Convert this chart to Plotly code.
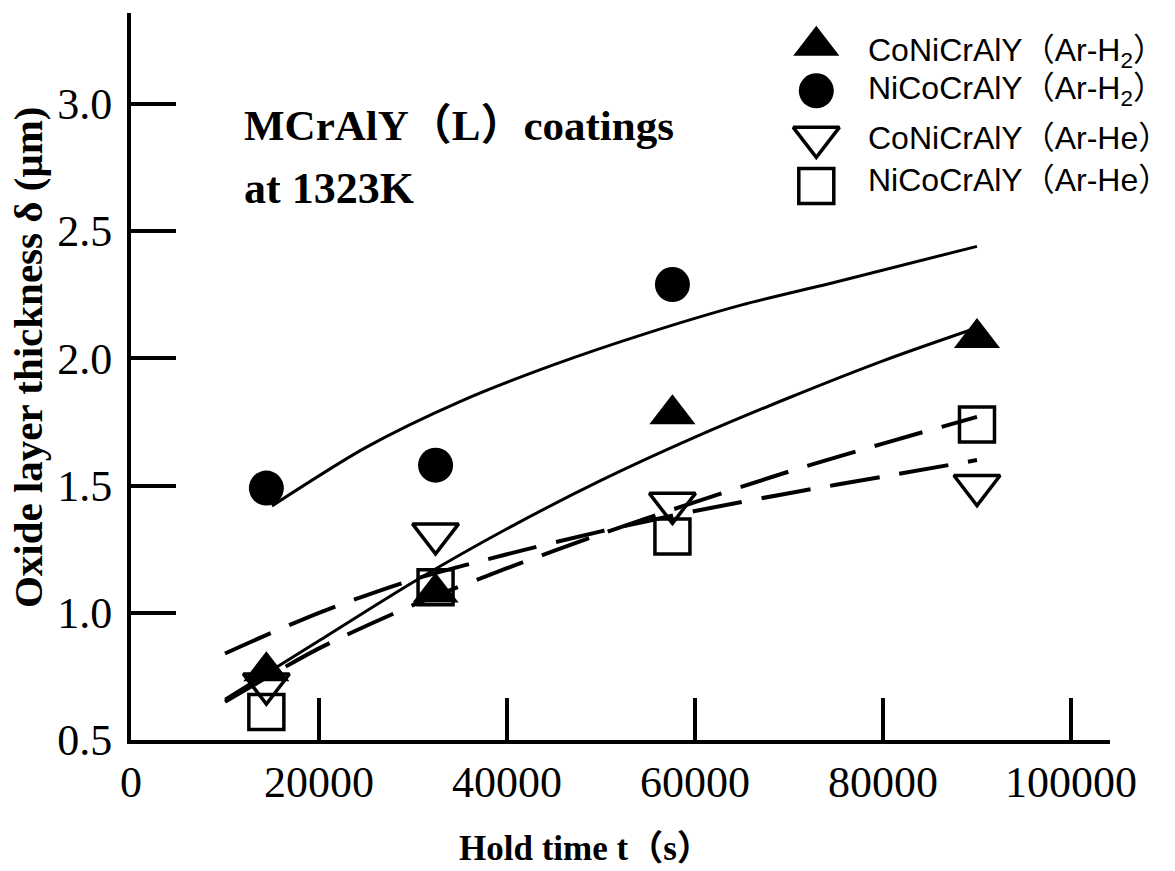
import plotly.graph_objects as go

# Hold times (s) of the oxidation tests
hold_time = [14400, 32400, 57600, 90000]

# Measured oxide layer thickness (um)
coni_ar_h2 = [0.77, 1.08, 1.78, 2.08]
nico_ar_h2 = [1.49, 1.58, 2.29]
coni_ar_he = [0.72, 1.31, 1.43, 1.50]
nico_ar_he = [0.61, 1.10, 1.30, 1.74]

# Fitted growth curves
fit_t = [10000, 20000, 30000, 40000, 50000, 60000, 70000, 80000, 90000]
fit_nico_h2_t = [15000, 25000, 35000, 45000, 55000, 65000, 75000, 90000]
fit_nico_h2 = [1.42, 1.65, 1.83, 1.975, 2.10, 2.21, 2.30, 2.44]
fit_coni_h2 = [0.66, 0.89, 1.12, 1.33, 1.52, 1.69, 1.845, 1.99, 2.12]
fit_coni_he = [0.84, 1.00, 1.13, 1.23, 1.32, 1.40, 1.47, 1.535, 1.60]
fit_nico_he = [0.65, 0.86, 1.03, 1.175, 1.31, 1.435, 1.555, 1.665, 1.77]

x_ticks = [0, 20000, 40000, 60000, 80000, 100000]
y_ticks = [0.5, 1.0, 1.5, 2.0, 2.5, 3.0]

legend_labels = [
    "CoNiCrAlY（Ar-H<sub>2</sub>）",
    "NiCoCrAlY（Ar-H<sub>2</sub>）",
    "CoNiCrAlY（Ar-He）",
    "NiCoCrAlY（Ar-He）",
]

SERIF = "Times New Roman, Liberation Serif, Noto Sans CJK JP, serif"
SANS = "Arial, Liberation Sans, Noto Sans CJK JP, sans-serif"
BLACK = "#000000"

fig = go.Figure()

# fitted curves (drawn under the markers)
solid = dict(color=BLACK, width=3, shape="spline", smoothing=0.8)
dashed = dict(color=BLACK, width=4, shape="spline", smoothing=0.8, dash="50px,20px")
fig.add_trace(go.Scatter(x=fit_nico_h2_t, y=fit_nico_h2, mode="lines", line=solid))
fig.add_trace(go.Scatter(x=fit_t, y=fit_coni_h2, mode="lines", line=solid))
fig.add_trace(go.Scatter(x=fit_t, y=fit_coni_he, mode="lines", line=dashed))
fig.add_trace(go.Scatter(x=fit_t, y=fit_nico_he, mode="lines", line=dashed))

marker_styles = [
    dict(symbol="triangle-up", size=40, color=BLACK, line=dict(width=0)),
    dict(symbol="circle", size=35, color=BLACK, line=dict(width=0)),
    dict(symbol="triangle-down-open", size=40, color=BLACK, line=dict(width=3.5, color=BLACK)),
    dict(symbol="square-open", size=35, color=BLACK, line=dict(width=3.5, color=BLACK)),
]
series = [coni_ar_h2, nico_ar_h2, coni_ar_he, nico_ar_he]

for vals, mk in zip(series, marker_styles):
    fig.add_trace(go.Scatter(x=hold_time[:len(vals)], y=vals, mode="markers",
                             marker=mk, cliponaxis=False))

# legend keys, drawn on a hidden unit overlay axis
key_x = 0.70
key_y = [0.955, 0.893, 0.829, 0.762]
for ky, mk in zip(key_y, marker_styles):
    fig.add_trace(go.Scatter(x=[key_x], y=[ky], mode="markers", marker=mk,
                             xaxis="x2", yaxis="y2", cliponaxis=False))

annotations = []
text_y = [0.946, 0.893, 0.828, 0.770]
for ty, label in zip(text_y, legend_labels):
    annotations.append(dict(x=0.751, y=ty, xref="paper", yref="paper", text=label,
                            showarrow=False, xanchor="left", yanchor="middle",
                            font=dict(family=SANS, size=32, color=BLACK)))

annotations += [
    dict(x=0.113, y=0.845, xref="paper", yref="paper", text="<b>MCrAlY（L）coatings</b>",
         showarrow=False, xanchor="left", yanchor="middle",
         font=dict(family=SERIF, size=43, color=BLACK)),
    dict(x=0.113, y=0.759, xref="paper", yref="paper", text="<b>at 1323K</b>",
         showarrow=False, xanchor="left", yanchor="middle",
         font=dict(family=SERIF, size=44, color=BLACK)),
    dict(x=0.333, y=-0.149, xref="paper", yref="paper", text="<b>Hold time t（s）</b>",
         showarrow=False, xanchor="left", yanchor="middle",
         font=dict(family=SERIF, size=35, color=BLACK)),
    dict(x=-0.105, y=0.179, xref="paper", yref="paper", text="<b>Oxide layer thickness δ (μm)</b>",
         showarrow=False, xanchor="center", yanchor="bottom", textangle=-90,
         font=dict(family=SERIF, size=41, color=BLACK)),
]

fig.update_layout(
    width=1175, height=871,
    margin=dict(l=131, r=65, t=13, b=131),
    paper_bgcolor="white", plot_bgcolor="white",
    showlegend=False,
    annotations=annotations,
    xaxis=dict(range=[0, 104150], tickvals=x_ticks, ticktext=[str(v) for v in x_ticks],
               ticks="inside", ticklen=42, tickwidth=4, tickcolor=BLACK,
               showline=True, linewidth=4, linecolor=BLACK,
               showgrid=False, zeroline=False,
               tickfont=dict(family=SERIF, size=44, color=BLACK)),
    yaxis=dict(range=[0.5, 3.357], tickvals=y_ticks, ticktext=[f"{v:.1f}" for v in y_ticks],
               ticks="inside", ticklen=45, tickwidth=4, tickcolor=BLACK,
               showline=True, linewidth=4, linecolor=BLACK,
               showgrid=False, zeroline=False, ticklabelstandoff=6,
               tickfont=dict(family=SERIF, size=44, color=BLACK)),
    xaxis2=dict(overlaying="x", range=[0, 1], visible=False),
    yaxis2=dict(overlaying="y", range=[0, 1], visible=False),
)

fig.write_html("out.html")
